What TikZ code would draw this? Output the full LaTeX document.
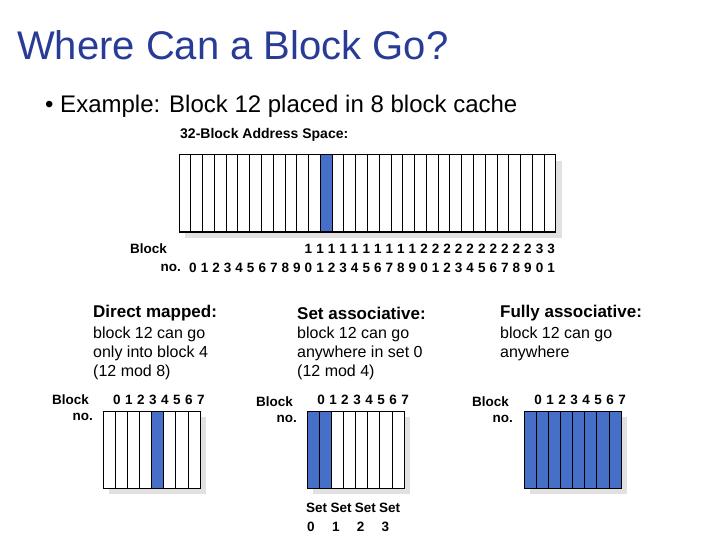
\documentclass[tikz,border=0pt]{standalone}
\usepackage{fontspec}
\setmainfont{Liberation Sans}
\definecolor{ttl}{RGB}{40,60,150}
\definecolor{cb}{RGB}{70,112,200}
\definecolor{sh}{RGB}{225,225,225}
\begin{document}
\begin{tikzpicture}[x=1pt,y=-1pt,
  cell/.style={draw=black,line width=1pt},
  lbl/.style={font=\bfseries\fontsize{13.5}{13.5}\selectfont,inner sep=0pt},
  hdr/.style={font=\bfseries\fontsize{17}{17}\selectfont,anchor=west,inner sep=0pt},
  body/.style={font=\fontsize{16}{19}\selectfont,anchor=north west,align=left,inner sep=0pt}]
\useasboundingbox (0,0) rectangle (720,540);
\node[anchor=west,text=ttl,font=\fontsize{40}{40}\selectfont,inner sep=0pt] (title) at (17,45) {Where Can a Block Go?};
\node[anchor=west,font=\fontsize{24}{24}\selectfont,inner sep=0pt] (ex) at (45,106) {\textbullet\ Example: Block 12 placed in 8 block cache};
\node[anchor=west,font=\bfseries\fontsize{14}{14}\selectfont,inner sep=0pt] (as) at (180,135) {32-Block Address Space:};
% address space
\fill[sh] (185,161) rectangle (562,238);
\fill[white] (179,155) rectangle (556,232);
\fill[cb] (179+12*11.78,155) rectangle (179+13*11.78,232);
\foreach \i in {0,...,31} \draw[cell] (179+\i*11.78,155) rectangle (179+\i*11.78+11.78,232);
\foreach \i in {0,...,31}{
  \pgfmathtruncatemacro{\t}{int(\i/10)}
  \pgfmathtruncatemacro{\u}{mod(\i,10)}
  \node[lbl] (d\i) at (193+\i*11.55,268) {\u};
  \ifnum\i>9 \node[lbl] (t\i) at (193+\i*11.55,249) {\t};\fi
}
\node[lbl,anchor=east] (ab) at (167,249) {Block};
\node[lbl,anchor=east] (an) at (181,268) {no.};
% headers
\node[hdr] (h1) at (93,313) {Direct mapped:};
\node[hdr] (h2) at (297,313) {Set associative:};
\node[hdr] (h3) at (500,313) {Fully associative:};
\node[body] (b1) at (93,327) {block 12 can go\\only into block 4\\(12 mod 8)};
\node[body] (b2) at (297,327) {block 12 can go\\anywhere in set 0\\(12 mod 4)};
\node[body] (b3) at (500,327) {block 12 can go\\anywhere};
% caches
\foreach \x/\ly/\bx/\nm in {103/400/52/dm,307/402/256/sa,524/402/472/fa}{
  \fill[sh] (\x+6,417) rectangle (\x+103.2,494);
  \fill[white] (\x,411) rectangle (\x+97.2,488);
  \node[lbl,anchor=west] (\nm b) at (\bx,\ly) {Block};
  \node[lbl,anchor=east] (\nm n) at (\bx+41,\ly+17) {no.};
  \foreach \j in {0,...,7} \node[lbl] (\nm c\j) at (\x+\j*12+14,400) {\j};
}
\fill[cb] (103+4*12.15,411) rectangle (103+5*12.15,488);
\fill[cb] (307,411) rectangle (307+2*12.15,488);
\fill[cb] (524,411) rectangle (524+97.2,488);
\foreach \x in {103,307,524}
  \foreach \j in {0,...,7} \draw[cell] (\x+\j*12.15,411) rectangle (\x+\j*12.15+12.15,488);
\foreach \k in {0,...,3}{
  \node[lbl,anchor=west] (s\k) at (307+\k*24.3-1,508) {Set};
  \node[lbl] (sn\k) at (307+\k*24.3+4+\k*0.5,527) {\k};
}
\end{tikzpicture}
\end{document}
